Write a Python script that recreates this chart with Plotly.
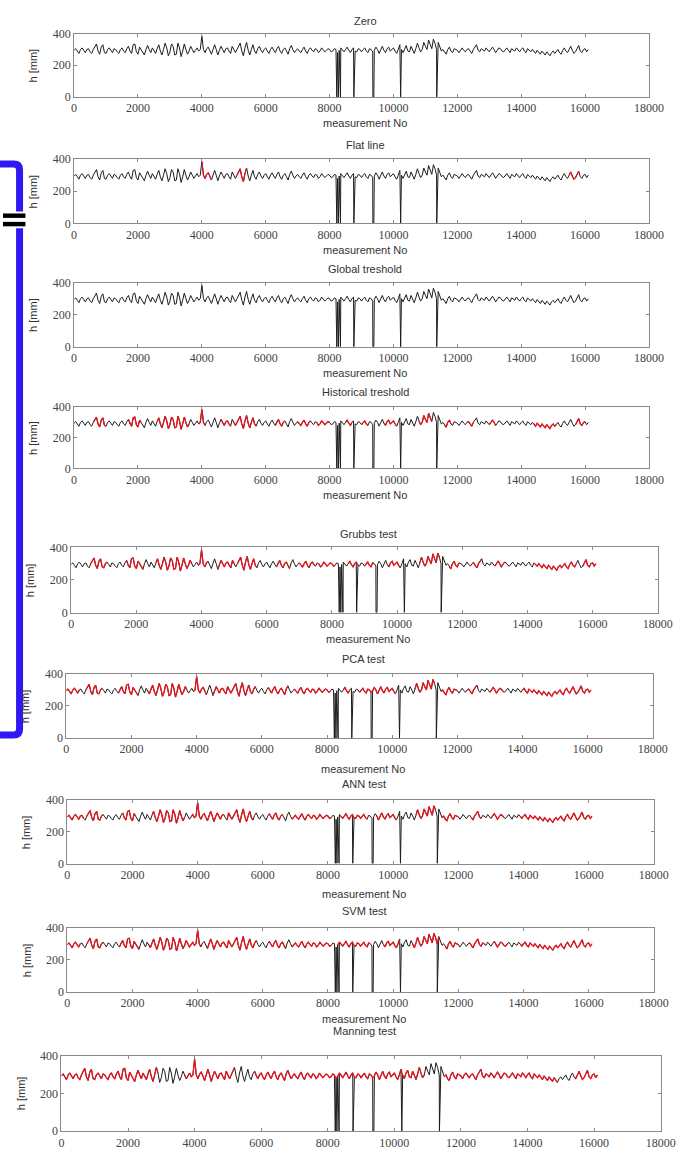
import plotly.graph_objects as go

W, H = 700, 1156

# ---------------- data ----------------
measurement_no = list(range(0, 16150, 50))  # sampled measurement numbers
h_mm = [
    295, 305, 290, 275, 300, 310, 295, 280, 300, 305, 285, 275, 300, 320, 335, 290, 270, 315, 330, 280,
    275, 300, 310, 295, 280, 305, 300, 285, 275, 300, 310, 290, 280, 305, 320, 290, 275, 330, 335, 285,
    270, 315, 300, 285, 265, 300, 325, 300, 280, 310, 295, 275, 305, 330, 290, 265, 300, 340, 310, 260,
    285, 335, 320, 265, 270, 340, 310, 255, 290, 335, 300, 270, 290, 320, 300, 280, 295, 310, 290, 300,
    385, 300, 280, 305, 315, 290, 270, 300, 330, 300, 265, 295, 320, 300, 280, 305, 310, 290, 275, 320,
    300, 280, 300, 320, 340, 290, 260, 310, 345, 295, 265, 300, 330, 290, 275, 305, 320, 295, 280, 300,
    310, 290, 275, 300, 315, 295, 280, 305, 320, 290, 275, 300, 310, 290, 270, 305, 325, 300, 280, 295,
    305, 290, 280, 300, 315, 290, 275, 300, 310, 295, 285, 305, 300, 280, 290, 310, 300, 285, 295, 305,
    300, 285, 290, 305, 300, 280, 295, 310, 300, 285, 300, 315, 295, 280, 300, 310, 290, 285, 305, 300,
    285, 300, 310, 290, 280, 305, 300, 285, 295, 315, 300, 275, 300, 320, 295, 280, 305, 315, 290, 300,
    310, 290, 275, 300, 330, 300, 280, 310, 325, 290, 285, 320, 300, 275, 305, 340, 310, 285, 300, 345,
    320, 300, 360, 330, 305, 365, 340, 300, 345, 310, 290, 300, 280, 270, 300, 315, 290, 280, 305, 300,
    295, 280, 300, 310, 295, 285, 300, 305, 290, 275, 300, 315, 330, 295, 285, 305, 300, 290, 310, 300,
    285, 300, 315, 300, 280, 295, 310, 305, 290, 285, 300, 310, 295, 280, 305, 300, 290, 310, 300, 285,
    300, 310, 290, 280, 305, 295, 285, 300, 290, 275, 295, 285, 270, 290, 280, 265, 285, 275, 260, 280,
    290, 275, 285, 300, 280, 270, 295, 310, 290, 280, 300, 320, 295, 275, 285, 310, 325, 290, 280, 300,
    305, 285, 300,
]

# sensor drop-outs (measurement No, level)
drop_no = [8225, 8275, 8340, 8760, 9355, 9385, 10225, 11355]
drop_h = [0, 0, 0, 0, 0, 0, 0, 0]

panel_titles = [
    "Zero", "Flat line", "Global treshold", "Historical treshold",
    "Grubbs test", "PCA test", "ANN test", "SVM test", "Manning test",
]

# ranges of measurement No flagged (red) by each method
flagged = [
    [],
    [(4000, 4300), (5100, 5400), (15500, 15800)],
    [],
    [(600, 1000), (1700, 2100), (2600, 3600), (3900, 4100), (4600, 4900),
     (5000, 5700), (6300, 6600), (7000, 7400), (7600, 8000), (8500, 8700),
     (9000, 9200), (9700, 10100), (10800, 11200), (11600, 11800),
     (12300, 12500), (13000, 13200), (14400, 15100), (15700, 16000)],
    [(600, 1100), (1700, 2200), (2600, 3700), (3900, 4200), (4500, 5000),
     (5100, 5700), (6300, 6700), (7000, 7500), (7600, 8100), (8500, 8800),
     (9000, 9300), (9700, 10100), (10700, 11300), (11600, 11900),
     (12300, 12600), (13000, 13300), (14200, 15500), (15700, 16100)],
    [(0, 400), (600, 1100), (1600, 2200), (2500, 3700), (3900, 4300),
     (4500, 5800), (6200, 6800), (7000, 8100), (8500, 8700), (9000, 10100),
     (10700, 11300), (11500, 12000), (12300, 12600), (13000, 13400),
     (14000, 16100)],
    [(0, 500), (600, 1100), (1700, 2100), (2600, 3600), (3800, 4800),
     (4900, 5700), (6200, 6600), (6900, 8100), (8400, 9200), (9500, 10100),
     (10700, 11300), (11500, 12000), (12400, 12700), (13000, 13400),
     (13900, 16100)],
    [(0, 400), (600, 1100), (1600, 2200), (2500, 4100), (4300, 5800),
     (6200, 6700), (6900, 8100), (8300, 9300), (9700, 10200), (10600, 11400),
     (11600, 12000), (12300, 12800), (13100, 13500), (13900, 16100)],
    [(0, 2900), (3700, 5200), (5800, 10900), (11500, 14900), (15400, 16100)],
]

x_ticks = [0, 2000, 4000, 6000, 8000, 10000, 12000, 14000, 16000, 18000]
y_ticks = [0, 200, 400]

# ---------------- layout (pixels) ----------------
# left, right, top, bottom, title_y, xlabel_y
boxes = [
    (73, 663, 27, 91, 14, 117),
    (73, 663, 154, 219, 140, 246),
    (73, 663, 279, 344, 265, 370),
    (73, 663, 405, 467, 390, 494),
    (70, 672, 547, 613, 533, 640),
    (65, 667, 675, 740, 660, 771),
    (66, 668, 803, 867, 787, 898),
    (66, 668, 932, 997, 915, 1024),
    (60, 675, 1062, 1138, 1037, None),
]


def px(x):
    return x / W


def py(y):
    return 1 - y / H


# merged series with drop-outs
merged = sorted(list(zip(measurement_no, h_mm)) + list(zip(drop_no, drop_h)))
mx = [p[0] for p in merged]
my = [p[1] for p in merged]

fig = go.Figure()
annotations = []
BLACK = "#1c1c1c"
RED = "#e3151f"
SANS = "Liberation Sans, Arial, sans-serif"
SERIF = "Liberation Serif, Times New Roman, serif"

for i, (title, flags, box) in enumerate(zip(panel_titles, flagged, boxes)):
    k = "" if i == 0 else str(i + 1)
    left, right, top, bottom, ty, xly = box
    fig.add_trace(go.Scatter(x=mx, y=my, mode="lines",
                             line=dict(color=BLACK, width=1.0),
                             xaxis="x" + k, yaxis="y" + k, hoverinfo="skip"))
    red_y = [h if any(a <= n <= b for a, b in flags) else None
             for n, h in zip(measurement_no, h_mm)]
    if flags:
        fig.add_trace(go.Scatter(x=measurement_no, y=red_y, mode="lines",
                                 line=dict(color=RED, width=1.3),
                                 connectgaps=False,
                                 xaxis="x" + k, yaxis="y" + k, hoverinfo="skip"))
    axstyle = dict(showline=True, linecolor="#8a8a8a", linewidth=1, mirror="ticks",
                   ticks="inside", ticklen=3, tickcolor="#8a8a8a",
                   showgrid=False, zeroline=False,
                   tickfont=dict(family=SERIF, size=12, color="#444"))
    fig.layout["xaxis" + k] = dict(domain=[px(left), px(right)], anchor="y" + k,
                                   range=[0, 18000], tickvals=x_ticks,
                                   tickformat="d", **axstyle)
    fig.layout["yaxis" + k] = dict(domain=[py(bottom), py(top)], anchor="x" + k,
                                   range=[0, 400], tickvals=y_ticks, **axstyle)
    cx = (left + right) / 2 + 4
    common = dict(xref="paper", yref="paper", showarrow=False,
                  xanchor="center", yanchor="middle")
    annotations.append(dict(x=px(cx), y=py(ty), text=title,
                            font=dict(family=SANS, size=11, color="#333"), **common))
    if xly is not None:
        annotations.append(dict(x=px(cx), y=py(xly), text="measurement No",
                                font=dict(family=SANS, size=11, color="#333"), **common))
    annotations.append(dict(x=px(left - 42), y=py((top + bottom) / 2),
                            text="h [mm]", textangle=-90,
                            font=dict(family=SANS, size=11, color="#333"), **common))

# blue bracket and "=" sign
def P(x, y):
    return f"{px(x):.5f},{py(y):.5f}"

bracket = (f"M {P(-5, 159)} L {P(11, 159)} Q {P(17, 159)} {P(17, 165)} "
           f"L {P(17, 731)} Q {P(17, 737)} {P(11, 737)} L {P(-5, 737)}")
shapes = [
    dict(type="path", xref="paper", yref="paper", path=bracket,
         line=dict(color="#3018f2", width=7)),
    dict(type="rect", xref="paper", yref="paper", x0=px(0), x1=px(23),
         y0=py(207), y1=py(224), fillcolor="white", line=dict(width=0)),
    dict(type="rect", xref="paper", yref="paper", x0=px(0), x1=px(23),
         y0=py(209), y1=py(213.5), fillcolor="black", line=dict(width=0)),
    dict(type="rect", xref="paper", yref="paper", x0=px(0), x1=px(23),
         y0=py(217.5), y1=py(222), fillcolor="black", line=dict(width=0)),
]

fig.update_layout(width=W, height=H, margin=dict(l=0, r=0, t=0, b=0),
                  paper_bgcolor="white", plot_bgcolor="white",
                  showlegend=False, annotations=annotations, shapes=shapes)

fig.write_html("out.html", config={"displayModeBar": False},
               post_script="document.body.style.margin='0px';"
                           "document.body.style.overflow='hidden';")
